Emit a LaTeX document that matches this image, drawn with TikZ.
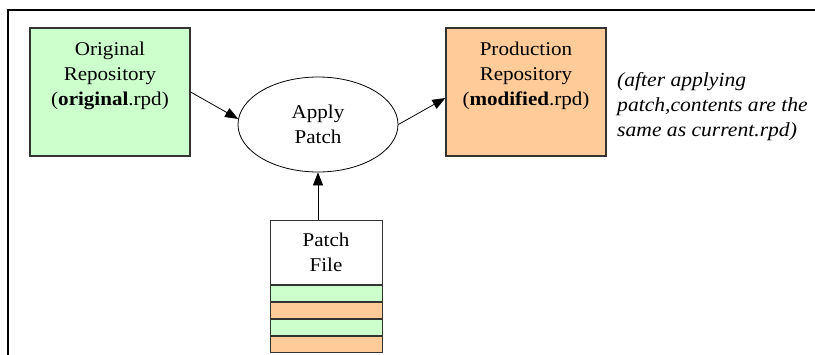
\documentclass[tikz,border=0pt]{standalone}
\usepackage{fontspec}
\setmainfont{Liberation Serif}[FakeStretch=1.08]
\usetikzlibrary{positioning,arrows.meta,shapes.geometric}
\definecolor{repogreen}{HTML}{CCFFCC}
\definecolor{repoorange}{HTML}{FFCC99}
\tikzset{
  repobox/.style={draw=black!80,line width=1.2pt,minimum width=160pt,minimum height=128pt,inner sep=0pt},
  boxtext/.style={align=center,inner sep=0pt,font=\fontsize{19.5}{25}\selectfont},
  stripe/.style={draw=black!80,line width=1pt,minimum width=112pt,minimum height=16pt,inner sep=0pt},
  flow/.style={line width=0.8pt,-{Triangle[length=13pt,width=10pt]}}
}
\begin{document}
\begin{tikzpicture}[x=1pt,y=-1pt]
    \useasboundingbox (0,0) rectangle (815,354);
    \clip (0,0) rectangle (815,354);
    \draw[line width=1.6pt] (8,10) rectangle (840,380);
    % repositories
    \node[repobox,fill=repogreen] (orig) at (110,92) {};
    \node[boxtext] (origtext) at (110,76) {Original\\Repository\\(\textbf{original}.rpd)};
    \node[repobox,fill=repoorange] (prod) at (526,92) {};
    \node[boxtext] (prodtext) at (526,76) {Production\\Repository\\(\textbf{modified}.rpd)};
    \node[align=left,anchor=west,inner sep=0pt,font=\fontsize{20}{25}\selectfont\itshape] (note) at (617,107)
        {(after applying\\patch,contents are the\\same as current.rpd)};
    % apply step
    \node[draw,ellipse,line width=0.8pt,minimum width=160pt,minimum height=95pt,inner sep=0pt,boxtext] (apply) at (318,124.5) {Apply\\Patch};
    % patch file with its entries
    \node[stripe,minimum height=64pt,boxtext,draw=black!80,line width=1pt] (patch) at (326,252) {Patch\\File};
    \node[stripe,fill=repogreen,below=0pt of patch] (e1) {};
    \node[stripe,fill=repoorange,below=0pt of e1] (e2) {};
    \node[stripe,fill=repogreen,below=0pt of e2] (e3) {};
    \node[stripe,fill=repoorange,below=0pt of e3] (e4) {};
    \draw[flow] (orig.east) to (apply.176);
    \draw[flow] (apply.east) to ([yshift=-6pt]prod.west);
    \draw[flow] (apply.south |- patch.north) to (apply.south);
\end{tikzpicture}
\end{document}
